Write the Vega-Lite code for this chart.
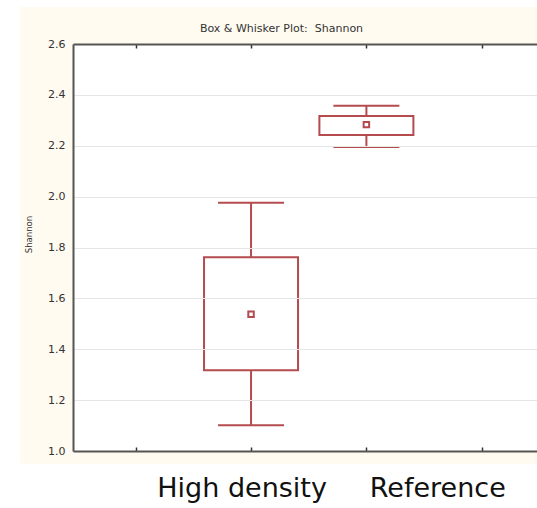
{
  "$schema": "https://vega.github.io/schema/vega-lite/v6.json",
  "width": 464,
  "height": 407,
  "autosize": {"type": "none"},
  "padding": {"left": 73, "top": 44, "right": 0, "bottom": 57},
  "background": "#fffbf1",
  "config": {"view": {"fill": "white", "stroke": null}},
  "data": {
    "values": [
      {"group": "High density", "pos": 2, "lo": 1.101, "q1": 1.317, "mid": 1.538, "q3": 1.762, "hi": 1.976},
      {"group": "Reference", "pos": 3, "lo": 2.195, "q1": 2.242, "mid": 2.283, "q3": 2.317, "hi": 2.357}
    ]
  },
  "layer": [
    {
      "data": {"values": [{}]},
      "mark": {"type": "rect", "color": "white"},
      "encoding": {
        "x": {"datum": -0.7, "type": "quantitative", "scale": {"domain": [0.5, 4.4356], "nice": false, "zero": false}, "axis": null},
        "x2": {"datum": 0},
        "y": {"datum": 0.5, "type": "quantitative", "scale": {"domain": [1.0, 2.6], "nice": false, "zero": false}},
        "y2": {"datum": 2.78}
      }
    },
    {
      "data": {"values": [{}]},
      "mark": {"type": "rect", "color": "white"},
      "encoding": {
        "x": {"datum": -0.7, "type": "quantitative", "scale": {"domain": [0.5, 4.4356], "nice": false, "zero": false}, "axis": null},
        "x2": {"datum": 4.7},
        "y": {"datum": 2.745, "type": "quantitative", "scale": {"domain": [1.0, 2.6], "nice": false, "zero": false}},
        "y2": {"datum": 2.78}
      }
    },
    {
      "data": {"values": [{}]},
      "mark": {"type": "rect", "color": "white"},
      "encoding": {
        "x": {"datum": -0.7, "type": "quantitative", "scale": {"domain": [0.5, 4.4356], "nice": false, "zero": false}, "axis": null},
        "x2": {"datum": 4.7},
        "y": {"datum": 0.5, "type": "quantitative", "scale": {"domain": [1.0, 2.6], "nice": false, "zero": false}},
        "y2": {"datum": 0.95}
      }
    },
    {
      "mark": {"type": "rule", "color": "#b34b4f", "strokeWidth": 2},
      "encoding": {
        "x": {
          "field": "pos", "type": "quantitative",
          "scale": {"domain": [0.5, 4.4356], "nice": false, "zero": false},
          "axis": {
            "orient": "bottom",
            "values": [1, 2, 3, 4],
            "labels": false,
            "domain": true,
            "domainColor": "#555555",
            "domainWidth": 2,
            "ticks": true,
            "tickSize": -4,
            "tickColor": "#333333",
            "tickWidth": 1.5,
            "grid": false,
            "title": "High density\u00a0\u00a0\u00a0\u00a0\u00a0Reference",
            "titleFont": "DejaVu Sans",
            "titleFontSize": 27,
            "titleFontWeight": "normal",
            "titleColor": "#111111",
            "titleX": 258,
            "titleY": 45,
            "titleAlign": "center",
            "titleAnchor": null,
            "titleBaseline": "alphabetic",
            "zindex": 1
          }
        },
        "y": {
          "field": "lo", "type": "quantitative",
          "scale": {"domain": [1.0, 2.6], "nice": false, "zero": false},
          "axis": {
            "values": [1.0, 1.2, 1.4, 1.6, 1.8, 2.0, 2.2, 2.4, 2.6],
            "format": ".1f",
            "domain": true,
            "domainColor": "#555555",
            "domainWidth": 2,
            "ticks": false,
            "labelPadding": 8,
            "labelFont": "DejaVu Sans",
            "labelFontSize": 11,
            "labelColor": "#333333",
            "grid": true,
            "gridColor": "#e6e6e6",
            "gridWidth": 1,
            "title": "Shannon",
            "titleFont": "DejaVu Sans",
            "titleFontSize": 8.5,
            "titleFontWeight": "normal",
            "titleColor": "#333333",
            "titleX": -45,
            "titleY": 190,
            "titleAngle": -90,
            "titleAlign": "center",
            "titleBaseline": "middle",
            "zindex": 1
          }
        },
        "y2": {"field": "hi"}
      }
    },
    {
      "mark": {"type": "tick", "orient": "horizontal", "size": 66, "thickness": 2, "color": "#b34b4f", "opacity": 1},
      "encoding": {
        "x": {"field": "pos", "type": "quantitative", "scale": {"domain": [0.5, 4.4356], "nice": false, "zero": false}, "axis": null},
        "y": {"field": "lo", "type": "quantitative", "scale": {"domain": [1.0, 2.6], "nice": false, "zero": false}}
      }
    },
    {
      "mark": {"type": "tick", "orient": "horizontal", "size": 66, "thickness": 2, "color": "#b34b4f", "opacity": 1},
      "encoding": {
        "x": {"field": "pos", "type": "quantitative", "scale": {"domain": [0.5, 4.4356], "nice": false, "zero": false}, "axis": null},
        "y": {"field": "hi", "type": "quantitative", "scale": {"domain": [1.0, 2.6], "nice": false, "zero": false}}
      }
    },
    {
      "mark": {"type": "bar", "width": 94, "fill": "white", "stroke": "#b34b4f", "strokeWidth": 2},
      "encoding": {
        "x": {"field": "pos", "type": "quantitative", "scale": {"domain": [0.5, 4.4356], "nice": false, "zero": false}, "axis": null},
        "y": {"field": "q1", "type": "quantitative", "scale": {"domain": [1.0, 2.6], "nice": false, "zero": false}},
        "y2": {"field": "q3"}
      }
    },
    {
      "mark": {"type": "point", "shape": "square", "size": 30, "filled": false, "color": "#b34b4f", "strokeWidth": 2, "opacity": 1},
      "encoding": {
        "x": {
          "field": "pos", "type": "quantitative",
          "scale": {"domain": [0.5, 4.4356], "nice": false, "zero": false},
          "axis": {
            "orient": "top",
            "values": [1, 2, 3, 4],
            "labels": false,
            "domain": true,
            "domainColor": "#555555",
            "domainWidth": 2,
            "ticks": true,
            "tickSize": -4,
            "tickColor": "#333333",
            "tickWidth": 1.5,
            "grid": false,
            "title": "Box & Whisker Plot:\u00a0\u00a0Shannon",
            "titleFont": "DejaVu Sans",
            "titleFontSize": 11,
            "titleFontWeight": "normal",
            "titleColor": "#333333",
            "titleX": 208,
            "titleY": -13,
            "titleAlign": "center",
            "titleAnchor": null,
            "titleBaseline": "alphabetic",
            "zindex": 1
          }
        },
        "y": {"field": "mid", "type": "quantitative", "scale": {"domain": [1.0, 2.6], "nice": false, "zero": false}}
      }
    }
  ],
  "resolve": {"axis": {"x": "independent"}}
}
